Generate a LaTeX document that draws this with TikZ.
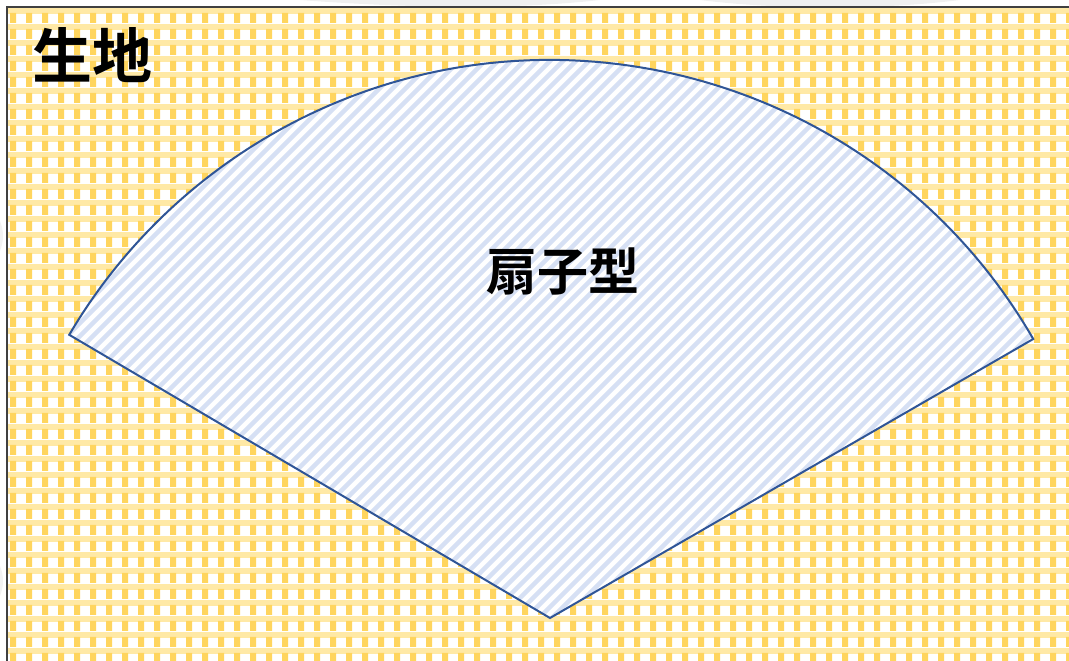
\documentclass[tikz,border=0pt]{standalone}
\usepackage{fontspec}
\newfontfamily\cjk{Noto Sans CJK JP}[BoldFont={Noto Sans CJK JP Bold}]
\definecolor{paleY}{HTML}{FFE9A6}
\definecolor{solidY}{HTML}{FFD55E}
\definecolor{stripeB}{HTML}{D6E0F4}
\definecolor{fanLine}{HTML}{2F5597}
\definecolor{frameGray}{HTML}{404040}
\tikzset{
  fanborder/.style={draw=fanLine, line width=2pt, line join=miter},
  labeltext/.style={font=\cjk\bfseries, text=black, inner sep=0pt}
}
\begin{document}
\begin{tikzpicture}[x=1pt,y=1pt]
\useasboundingbox (0,0) rectangle (1069,661);
% faint shadows of the slide behind
\fill[gray!12] (300,661) .. controls (420,652) and (520,652) .. (600,661) -- cycle;
\fill[gray!12] (700,661) .. controls (780,651) and (880,651) .. (960,661) -- cycle;
\fill[gray!10] (0,440) .. controls (4,430) and (4,420) .. (0,410) -- cycle;
\fill[gray!10] (0,95) .. controls (4,85) and (4,75) .. (0,65) -- cycle;
% cloth background
\coordinate (frameTL) at (7,654);
\coordinate (frameBR) at (1069,0);
\begin{scope}
\clip (frameBR) rectangle (frameTL);
\fill[white] (frameBR) rectangle (frameTL);
\foreach \j in {0,...,41} {
  \fill[paleY] (7,654-16*\j-1) rectangle (1069,654-16*\j-7);
  \fill[solidY] \foreach \i in {0,...,66} { (7+16*\i+3,654-16*\j-6) rectangle ++(6,-10) };
}
\end{scope}
\draw[frameGray, line width=1.5pt] (7,0) -- (frameTL) -- (1069,654);
% fan
\coordinate (apex) at (550,43);
\begin{scope}
\clip (apex) -- ++(30:558) arc[start angle=30, end angle=149.5, radius=558] -- cycle;
\fill[white] (apex) -- ++(30:558) arc[start angle=30, end angle=149.5, radius=558] -- cycle;
\foreach \k in {-80,...,80} {
  \draw[stripeB, line width=4.5pt] (550+13*\k-700,-100) -- ++(45:1600);
}
\end{scope}
\draw[fanborder] (apex) -- ++(30:558) arc[start angle=30, end angle=149.5, radius=558] -- cycle;
% labels
\node[labeltext, font=\cjk\bfseries\fontsize{60}{60}\selectfont] (cloth) at (92,606) {生地};
\node[labeltext, font=\cjk\bfseries\fontsize{51}{51}\selectfont] (fan) at (563,389) {扇子型};
\end{tikzpicture}
\end{document}
